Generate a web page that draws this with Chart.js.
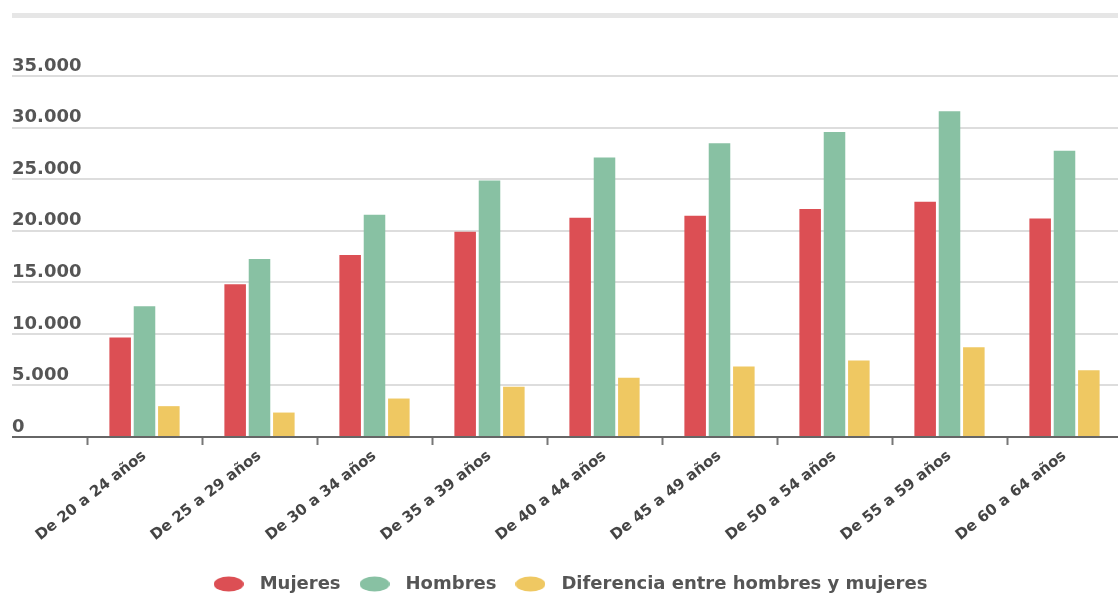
<!DOCTYPE html>
<html lang="es">
<head>
<meta charset="utf-8">
<title>Salario por edad y sexo</title>
<script src="https://cdn.jsdelivr.net/npm/chart.js@4"></script>
<style>
    html, body { margin: 0; padding: 0; background: #fff; overflow: hidden; }
    #top-rule { position: absolute; left: 12px; right: 0; top: 13px; height: 5px; background: #e6e6e6; }
    #chart-box { position: absolute; left: 0; top: 0; width: 1124px; height: 603px; }
</style>
</head>
<body>
<div id="top-rule"></div>
<div id="chart-box"><canvas id="age-chart"></canvas></div>
<script>
// data
const categories = ['De 20 a 24 años', 'De 25 a 29 años', 'De 30 a 34 años', 'De 35 a 39 años', 'De 40 a 44 años',
    'De 45 a 49 años', 'De 50 a 54 años', 'De 55 a 59 años', 'De 60 a 64 años'];
const mujeres = [9650, 14820, 17650, 19890, 21250, 21450, 22100, 22815, 21190];
const hombres = [12670, 17250, 21540, 24860, 27100, 28470, 29570, 31590, 27760];
const diferencia = [2990, 2370, 3730, 4875, 5750, 6825, 7410, 8710, 6465];
const yTicks = [0, 5000, 10000, 15000, 20000, 25000, 30000, 35000];

const RED = '#dc4f54';
const GREEN = '#88c1a3';
const YELLOW = '#efc862';

// thousands with a dot, e.g. 35.000
const fmt = v => String(v).replace(/\B(?=(\d{3})+(?!\d))/g, '.');

// flat ellipse used as legend marker
function marker(color) {
    const c = document.createElement('canvas');
    c.width = 30;
    c.height = 16;
    const g = c.getContext('2d');
    g.fillStyle = color;
    g.beginPath();
    g.ellipse(15, 8, 15, 7.5, 0, 0, Math.PI * 2);
    g.fill();
    return c;
}

const ctx = document.getElementById('age-chart').getContext('2d');

new Chart(ctx, {
    type: 'bar',
    data: {
        labels: categories,
        datasets: [
            { label: 'Mujeres', data: mujeres, backgroundColor: RED, pointStyle: marker(RED) },
            { label: 'Hombres', data: hombres, backgroundColor: GREEN, pointStyle: marker(GREEN) },
            { label: 'Diferencia entre hombres y mujeres', data: diferencia, backgroundColor: YELLOW, pointStyle: marker(YELLOW) }
        ]
    },
    options: {
        responsive: true,
        maintainAspectRatio: false,
        animation: false,
        categoryPercentage: 0.635,
        barPercentage: 0.885,
        layout: { padding: { left: 12, right: 2, top: 76, bottom: 0 } },
        plugins: {
            tooltip: { enabled: false },
            legend: {
                position: 'bottom',
                labels: {
                    usePointStyle: true,
                    pointStyleWidth: 44,
                    padding: 12,
                    color: '#555',
                    font: { family: 'DejaVu Sans', size: 18, weight: 'bold' }
                }
            }
        },
        scales: {
            x: {
                afterFit: s => { s.height = 126; },
                border: { display: true, color: '#666', width: 2 },
                grid: {
                    display: true,
                    drawOnChartArea: false,
                    drawTicks: true,
                    tickLength: 8,
                    tickColor: '#777',
                    tickWidth: 2
                },
                ticks: {
                    maxRotation: 38,
                    minRotation: 38,
                    padding: 2,
                    color: '#444',
                    font: { family: 'DejaVu Sans', size: 15, weight: 'bold' }
                }
            },
            y: {
                min: 0,
                max: 35000,
                afterFit: s => { s.width = 75; },
                afterBuildTicks: s => { s.ticks = yTicks.map(v => ({ value: v })); },
                border: { display: false },
                grid: {
                    color: c => c.tick && c.tick.value === 0 ? '#666' : '#dddddd',
                    lineWidth: 2,
                    tickLength: 75,
                    tickColor: c => c.tick && c.tick.value === 0 ? '#666' : '#dddddd',
                    tickWidth: 2
                },
                ticks: {
                    crossAlign: 'far',
                    labelOffset: -10,
                    padding: 0,
                    color: '#555',
                    font: { family: 'DejaVu Sans', size: 18, weight: 'bold' },
                    callback: v => fmt(v)
                }
            }
        }
    }
});
</script>
</body>
</html>
